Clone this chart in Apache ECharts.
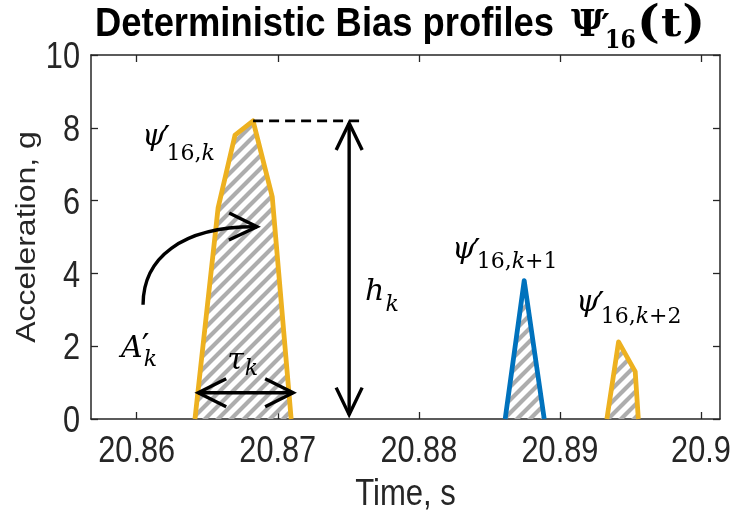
<!DOCTYPE html>
<html><head><meta charset="utf-8">
<script src="https://cdn.jsdelivr.net/npm/echarts@6/dist/echarts.min.js"></script>
<style>html,body{margin:0;padding:0;background:#fff}#c{width:730px;height:525px}</style>
</head><body><div id="c"></div>
<script>
// ---- data ----
const xTicks = [20.86, 20.87, 20.88, 20.89, 20.9];
const xTickLabels = ['20.86', '20.87', '20.88', '20.89', '20.9'];
const yTicks = [0, 2, 4, 6, 8, 10];
const yTickLabels = ['0', '2', '4', '6', '8', '10'];
const xRange = [20.85676, 20.90135];
const yRange = [0, 10];
// pulse k (yellow)
const tK = [20.86413, 20.86577, 20.86697, 20.86825, 20.86961, 20.87095];
const aK = [0, 5.80, 7.80, 8.19, 6.10, 0];
// pulse k+1 (blue)
const tK1 = [20.88612, 20.88747, 20.88889];
const aK1 = [0, 3.80, 0];
// pulse k+2 (yellow)
const tK2 = [20.89333, 20.89416, 20.89534, 20.89556];
const aK2 = [0, 2.12, 1.30, 0];

// annotation anchors (data coords)
const peakLevel = 8.19;
const dashEndT = 20.87577;
const hArrowT = 20.87506, hArrowY = [8.13, 0.12];
const tauArrowY = 0.72, tauArrowT = [20.86436, 20.87109];
const curve = [[20.86045, 3.14], [20.86045, 4.40], [20.86310, 5.30], [20.86853, 5.28]];
const labels = [
  {t: 20.86038, y: 7.45, main: 'ψ', prime: true, sub: [['16,', 0], ['k', 1]], subDy: 14},
  {t: 20.88236, y: 4.35, main: 'ψ', prime: true, sub: [['16,', 0], ['k', 1], ['+1', 0]], subDy: 9},
  {t: 20.89115, y: 2.89, main: 'ψ', prime: true, sub: [['16,', 0], ['k', 1], ['+2', 0]], subDy: 11},
  {t: 20.85889, y: 1.63, main: 'A', prime: true, sub: [['k', 1]], subDy: 8},
  {t: 20.86642, y: 1.30, main: 'τ', prime: false, sub: [['k', 1]], subDy: 5},
  {t: 20.87619, y: 3.19, main: 'h', prime: false, sub: [['k', 1]], subDy: 10}
];

// ---- styles ----
const SANS = '"Liberation Sans",Arial,sans-serif';
const MATH = '"DejaVu Serif",serif';
const AX = '#262626';
const YEL = '#EDB120', BLU = '#0072BD';
const SX = 0.83; // horizontal squeeze of sans text

const mctx = document.createElement('canvas').getContext('2d');
function measure(text, font) { mctx.font = font; return mctx.measureText(text).width; }

function hatchCanvas() {
  const s = 13, c = document.createElement('canvas');
  c.width = s; c.height = s;
  const g = c.getContext('2d');
  g.strokeStyle = '#adadad'; g.lineWidth = 4.2; g.lineCap = 'square';
  g.beginPath();
  for (const o of [-s, 0, s]) { g.moveTo(o, s); g.lineTo(o + s, 0); }
  g.stroke();
  return c;
}
const hatch = {image: hatchCanvas(), repeat: 'repeat'};

function pulse(ts, as, color) {
  return {
    type: 'line', xAxisIndex: 0, yAxisIndex: 0,
    data: ts.map((t, i) => [t, as[i]]),
    symbol: 'none', silent: true, z: 3,
    lineStyle: {color: color, width: 4.8, join: 'round', cap: 'butt'},
    areaStyle: {color: hatch, opacity: 1}
  };
}

function arrowHead(tip, from, L, W, lw) {
  const dx = tip[0] - from[0], dy = tip[1] - from[1];
  const n = Math.hypot(dx, dy), ux = dx / n, uy = dy / n;
  const bx = tip[0] - L * ux, by = tip[1] - L * uy;
  return {type: 'polyline', shape: {points: [[bx - W * uy, by + W * ux], tip, [bx + W * uy, by - W * ux]]},
          style: {stroke: '#000', lineWidth: lw, fill: null, lineJoin: 'miter'}};
}

function txt(text, x, y, font, align, vAlign, extra, color) {
  return Object.assign({type: 'text', x: x, y: y, silent: true,
    style: {text: text, x: 0, y: 0, font: font, fill: color || '#000', align: align || 'left', verticalAlign: vAlign || 'middle'}}, extra || {});
}

function renderAnnot(params, api) {
  const ch = [];
  const lw = 3.4;
  const p0 = api.coord([tK[3], peakLevel]), p1 = api.coord([dashEndT, peakLevel]);
  ch.push({type: 'line', shape: {x1: p0[0], y1: p0[1], x2: p1[0], y2: p1[1]},
           style: {stroke: '#000', lineWidth: 2.6, lineDash: [10, 6]}});
  const v0 = api.coord([hArrowT, hArrowY[0]]), v1 = api.coord([hArrowT, hArrowY[1]]);
  ch.push({type: 'line', shape: {x1: v0[0], y1: v0[1], x2: v1[0], y2: v1[1]}, style: {stroke: '#000', lineWidth: lw}});
  ch.push(arrowHead(v0, v1, 27, 13, lw), arrowHead(v1, v0, 27, 13, lw));
  const h0 = api.coord([tauArrowT[0], tauArrowY]), h1 = api.coord([tauArrowT[1], tauArrowY]);
  ch.push({type: 'line', shape: {x1: h0[0], y1: h0[1], x2: h1[0], y2: h1[1]}, style: {stroke: '#000', lineWidth: lw}});
  ch.push(arrowHead(h0, h1, 28, 14, lw), arrowHead(h1, h0, 28, 14, lw));
  const c = curve.map(p => api.coord(p));
  ch.push({type: 'bezierCurve', shape: {x1: c[0][0], y1: c[0][1], cpx1: c[1][0], cpy1: c[1][1], cpx2: c[2][0], cpy2: c[2][1], x2: c[3][0], y2: c[3][1]},
           style: {stroke: '#000', lineWidth: lw, fill: null}});
  ch.push(arrowHead(c[3], c[2], 28, 13.5, lw));
  const MS = 30, SS = 22, PS = 34;
  labels.forEach(lb => {
    const a = api.coord([lb.t, lb.y]);
    const fMain = `italic ${MS}px ${MATH}`;
    const wMain = measure(lb.main, fMain);
    ch.push(txt(lb.main, a[0], a[1] - 0.346 * MS, fMain));
    if (lb.prime) {
      const pb = a[1] + (lb.main === 'ψ' ? 5 : 1);
      ch.push(txt('′', a[0] + wMain - (lb.main === 'A' ? 1 : 3), pb - 0.346 * PS, `${PS}px ${MATH}`));
    }
    let sx = a[0] + wMain + 1;
    const sb = a[1] + lb.subDy;
    lb.sub.forEach(([s, it]) => {
      const f = `${it ? 'italic ' : ''}${SS}px ${MATH}`;
      ch.push(txt(s, sx, sb - 0.346 * SS, f));
      sx += measure(s, f);
    });
  });
  return {type: 'group', children: ch};
}

function renderAxisText(params, api) {
  const ch = [];
  const f = `37px ${SANS}`;
  xTicks.forEach((v, i) => {
    const p = api.coord([v, yRange[0]]);
    ch.push(txt(xTickLabels[i], p[0], p[1] + 33, f, 'center', 'middle', {scaleX: SX}, AX));
  });
  yTicks.forEach((v, i) => {
    const p = api.coord([xRange[0], v]);
    ch.push(txt(yTickLabels[i], p[0] - 11, p[1] + 3, f, 'right', 'middle', {scaleX: SX}, AX));
  });
  const b = api.coord([(xRange[0] + xRange[1]) / 2, yRange[0]]);
  ch.push(txt('Time, s', b[0], b[1] + 76, f, 'center', 'middle', {scaleX: 0.84}, AX));
  const l = api.coord([xRange[0], (yRange[0] + yRange[1]) / 2]);
  ch.push(txt('Acceleration, g', l[0] - 64, l[1], `32px ${SANS}`, 'center', 'middle', {rotation: Math.PI / 2, scaleY: 0.88}, AX));
  return {type: 'group', children: ch};
}

// ---- title (graphic, layout only) ----
function titleGraphic() {
  const fA = `bold 40px ${SANS}`;
  const txtA = 'Deterministic Bias profiles';
  const sA = 459 / measure(txtA, fA);
  const fB = `bold 38px ${MATH}`;
  const fS = `bold 26px ${MATH}`;
  const base = 39;
  const els = [];
  els.push(txt(txtA, 95, base - 0.346 * 40, fA, 'left', 'middle', {scaleX: sA}));
  els.push(txt('Ψ', 571, base - 0.346 * 38, fB, 'left', 'middle', {scaleX: 0.95}));
  els.push(txt('′', 601, base + 2 - 0.346 * 34, `bold 34px ${MATH}`, 'left', 'middle'));
  els.push(txt('16', 605, base + 11 - 0.346 * 26, fS, 'left', 'middle', {scaleX: 0.85}));
  // (t)
  const fP = `bold 44px ${MATH}`, fT = `bold 40px ${MATH}`;
  const wP = measure('(', fP), wT = measure('t', fT);
  let x = 637;
  els.push(txt('(', x, base + 2 - 0.346 * 44, fP, 'left', 'middle', {scaleX: 1.1}));
  x += wP * 1.1 + 1;
  els.push(txt('t', x, base - 0.346 * 40, fT, 'left', 'middle', {scaleX: 1.1}));
  x += wT * 1.1 + 1;
  els.push(txt(')', x, base + 2 - 0.346 * 44, fP, 'left', 'middle', {scaleX: 1.1}));
  return els;
}

const chart = echarts.init(document.getElementById('c'), null, {renderer: 'canvas'});
const axisCommon = {
  type: 'value', splitLine: {show: false},
  axisLine: {onZero: false, lineStyle: {color: AX, width: 1.5}},
  axisLabel: {show: false}
};
chart.setOption({
  animation: false,
  backgroundColor: '#fff',
  grid: {left: 91, right: 10, top: 55, bottom: 106, containLabel: false, outerBoundsMode: 'none'},
  xAxis: [
    Object.assign({}, axisCommon, {
      min: xRange[0], max: xRange[1], position: 'bottom',
      axisTick: {inside: true, length: 7, customValues: xTicks, lineStyle: {color: AX, width: 1.3}}
    }),
    Object.assign({}, axisCommon, {
      min: xRange[0], max: xRange[1], position: 'top',
      axisTick: {inside: true, length: 7, customValues: xTicks, lineStyle: {color: AX, width: 1.3}}
    })
  ],
  yAxis: [
    Object.assign({}, axisCommon, {
      min: yRange[0], max: yRange[1], interval: 2, position: 'left',
      axisTick: {inside: true, length: 7, customValues: yTicks, lineStyle: {color: AX, width: 1.3}}
    }),
    Object.assign({}, axisCommon, {
      min: yRange[0], max: yRange[1], interval: 2, position: 'right',
      axisTick: {inside: true, length: 7, customValues: yTicks, lineStyle: {color: AX, width: 1.3}}
    })
  ],
  graphic: titleGraphic(),
  series: [
    pulse(tK, aK, YEL),
    pulse(tK1, aK1, BLU),
    pulse(tK2, aK2, YEL),
    {type: 'custom', xAxisIndex: 0, yAxisIndex: 0, data: [[xRange[0], 0]], renderItem: renderAnnot, silent: true, z: 10, clip: false},
    {type: 'custom', xAxisIndex: 0, yAxisIndex: 0, data: [[xRange[0], 0]], renderItem: renderAxisText, silent: true, z: 10, clip: false}
  ]
});
</script>
</body></html>
